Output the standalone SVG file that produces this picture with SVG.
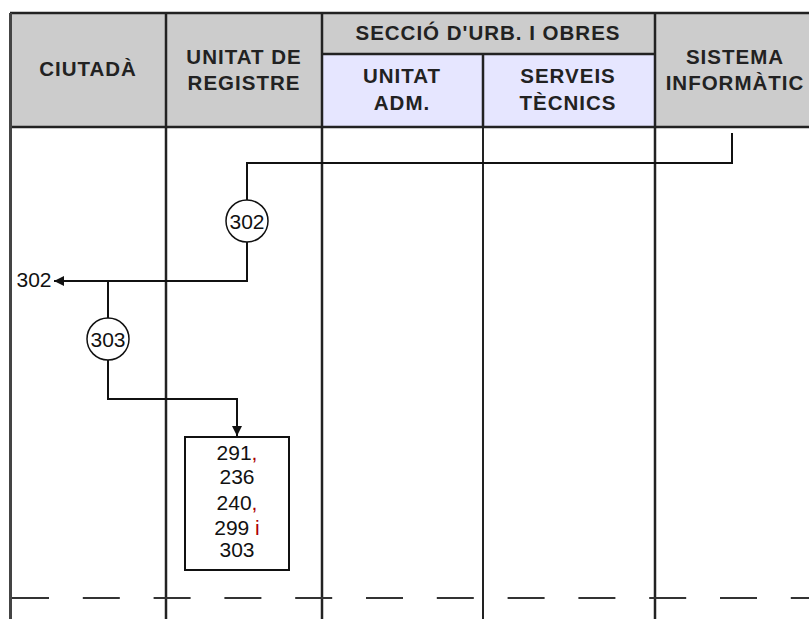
<svg xmlns="http://www.w3.org/2000/svg" width="809" height="619" viewBox="0 0 809 619">
<style>
.hdr{fill:#cccccc;}
.sub{fill:#e6e6ff;}
.grid{stroke:#222;stroke-width:2.5;fill:none;}
.htxt{font-family:"Liberation Sans",Arial,sans-serif;font-weight:bold;font-size:20.5px;fill:#222;text-anchor:middle;letter-spacing:1px;}
.ntxt{font-family:"Liberation Sans",Arial,sans-serif;font-size:21px;fill:#111;text-anchor:middle;}
.conn{stroke:#111;stroke-width:2;fill:none;}
.circ{stroke:#111;stroke-width:1.5;fill:#fff;}
.box{stroke:#111;stroke-width:2;fill:#fff;}
</style>
<defs>
<marker id="arr" viewBox="0 0 10 10" refX="10" refY="5" markerWidth="10" markerHeight="10" markerUnits="userSpaceOnUse" orient="auto">
<path d="M0,0 L10,5 L0,10 Z" fill="#111"/>
</marker>
</defs>
<rect width="809" height="619" fill="#fff"/>
<g id="header">
<rect class="hdr" x="10" y="13" width="810" height="114"/>
<rect class="sub" x="322" y="54" width="333" height="73"/>
<path class="grid" d="M10,13 H820 M322,54 H655 M10,127 H820 M166,13 V127 M322,13 V127 M483,54 V127 M655,13 V127"/>
<text class="htxt" x="88" y="76">CIUTADÀ</text>
<text class="htxt" x="244" y="64">UNITAT DE</text>
<text class="htxt" x="244" y="90">REGISTRE</text>
<text class="htxt" x="488" y="40">SECCIÓ D'URB. I OBRES</text>
<text class="htxt" x="402" y="83">UNITAT</text>
<text class="htxt" x="402" y="110">ADM.</text>
<text class="htxt" x="568" y="83">SERVEIS</text>
<text class="htxt" x="568" y="110">TÈCNICS</text>
<text class="htxt" x="735" y="64">SISTEMA</text>
<text class="htxt" x="735" y="90">INFORMÀTIC</text>
</g>
<g id="lanes">
<path d="M10.5,13 V619" stroke="#444" stroke-width="3"/>
<path class="grid" d="M166,127 V619 M322,127 V619 M655,127 V619"/>
<path d="M483,127 V619" stroke="#222" stroke-width="2"/>
<path d="M12,598 H809" stroke="#333" stroke-width="2" stroke-dasharray="37 33.8"/>
</g>
<g id="connectors">
<path class="conn" d="M732,133 V163 H247 V200"/>
<path class="conn" d="M247,242 V281 H54" marker-end="url(#arr)"/>
<path class="conn" d="M108,281 V318"/>
<path class="conn" d="M108,360 V399 H237 V436" marker-end="url(#arr)"/>
</g>
<g id="c302">
<circle class="circ" cx="247" cy="221" r="21"/>
<text class="ntxt" x="247" y="228.5">302</text>
</g>
<g id="c303">
<circle class="circ" cx="108" cy="339" r="21"/>
<text class="ntxt" x="108" y="346.5">303</text>
</g>
<g id="out302">
<text class="ntxt" x="34" y="287">302</text>
</g>
<g id="box">
<rect class="box" x="185" y="437" width="104" height="133"/>
<text class="ntxt" x="237" y="460">291<tspan fill="#a00">,</tspan></text>
<text class="ntxt" x="237" y="484">236</text>
<text class="ntxt" x="237" y="510">240<tspan fill="#a00">,</tspan></text>
<text class="ntxt" x="237" y="535">299 <tspan fill="#a00">i</tspan></text>
<text class="ntxt" x="237" y="557">303</text>
</g>
</svg>
